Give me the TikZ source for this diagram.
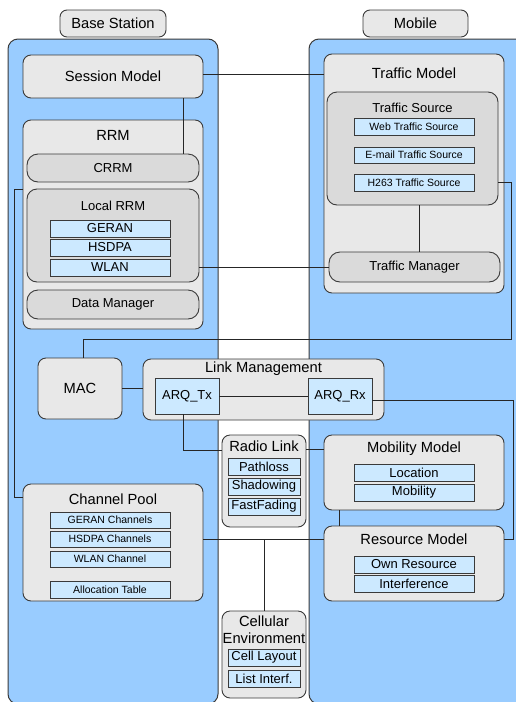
\documentclass[tikz,border=0pt]{standalone}
\usepackage{fontspec}
\setmainfont{Liberation Sans}

\definecolor{panelblue}{HTML}{99CCFF}
\definecolor{boxgray}{HTML}{E8E8E8}
\definecolor{subgray}{HTML}{DADADA}
\definecolor{itemblue}{HTML}{CCE9FF}
\definecolor{linegray}{HTML}{3A3A3A}

\newcommand\fsBig{\fontsize{14.7}{17}\selectfont}
\newcommand\fsMid{\fontsize{13}{15}\selectfont}
\newcommand\fsSmall{\fontsize{10.5}{12}\selectfont}

\tikzset{
  every node/.style={inner sep=0pt, outer sep=0pt},
  panel/.style={draw=linegray, fill=panelblue, rounded corners=10pt, line width=1pt},
  tagbox/.style={draw=linegray, fill=boxgray, rounded corners=7pt, line width=0.9pt, font=\fsBig},
  outerbox/.style={draw=linegray, fill=boxgray, rounded corners=8pt, line width=0.9pt},
  innerbox/.style={draw=linegray, fill=subgray, rounded corners=11pt, line width=0.9pt},
  itembox/.style={draw=linegray, fill=itemblue, line width=0.9pt},
  title/.style={font=\fsBig},
  wire/.style={draw=black!85, line width=1pt},
}

\begin{document}
\begin{tikzpicture}[x=1pt, y=-1pt]
\useasboundingbox (0,0) rectangle (516,702);
\clip (0,0) rectangle (516,702);

% the two sides
\node[panel, minimum width=210pt, minimum height=665pt] (bspanel) at (113,371.5) {};
\node[panel, minimum width=231pt, minimum height=665pt] (mspanel) at (424.5,371.5) {};
\node[tagbox, minimum width=106pt, minimum height=27pt] (bstag) at (113,23.5) {Base Station};
\node[tagbox, minimum width=105pt, minimum height=27pt] (mstag) at (415.5,23.5) {Mobile};

% base station
\node[outerbox, minimum width=180pt, minimum height=43pt, font=\fsBig] (session) at (113,76.5) {Session Model};
\node[outerbox, minimum width=180pt, minimum height=209pt] (rrm) at (113,224.5) {};
\node[title] (rrmT) at (113,135.5) {RRM};
\node[innerbox, minimum width=172pt, minimum height=28pt, font=\fsMid] (crrm) at (113,168) {CRRM};
\node[innerbox, rounded corners=10pt, minimum width=172pt, minimum height=93pt] (lrrm) at (113,235.5) {};
\node[font=\fsMid] (lrrmT) at (113,205.7) {Local RRM};
\node[itembox, minimum width=120pt, minimum height=17pt, font=\fsMid] (geran) at (110,228.5) {GERAN};
\node[itembox, minimum width=120pt, minimum height=17pt, font=\fsMid] (hsdpa) at (110,247.5) {HSDPA};
\node[itembox, minimum width=120pt, minimum height=17pt, font=\fsMid] (wlan) at (110,267.5) {WLAN};
\node[innerbox, minimum width=172pt, minimum height=29pt, font=\fsMid] (dataman) at (113,304.5) {Data Manager};

\node[outerbox, minimum width=84pt, minimum height=61pt, font=\fsBig] (mac) at (80,388.5) {MAC};

\node[outerbox, minimum width=180pt, minimum height=117pt] (chpool) at (113,542.5) {};
\node[title] (chpoolT) at (113,499) {Channel Pool};
\node[itembox, minimum width=120pt, minimum height=16pt, font=\fsSmall] (gerch) at (110,520) {GERAN Channels};
\node[itembox, minimum width=120pt, minimum height=16pt, font=\fsSmall] (hsdch) at (110,539) {HSDPA Channels};
\node[itembox, minimum width=120pt, minimum height=16pt, font=\fsSmall] (wlanch) at (110,559) {WLAN Channel};
\node[itembox, minimum width=120pt, minimum height=17pt, font=\fsSmall] (alloc) at (110,589.5) {Allocation Table};

% mobile
\node[outerbox, minimum width=180pt, minimum height=239pt] (tmodel) at (414,173.5) {};
\node[title] (tmodelT) at (414,73) {Traffic Model};
\node[innerbox, rounded corners=10pt, minimum width=171pt, minimum height=113pt] (tsrc) at (412.5,148.5) {};
\node[font=\fsMid] (tsrcT) at (412.5,107.5) {Traffic Source};
\node[itembox, minimum width=120pt, minimum height=17pt, font=\fsSmall] (web) at (414,126.5) {Web Traffic Source};
\node[itembox, minimum width=120pt, minimum height=16pt, font=\fsSmall] (email) at (414,155) {E-mail Traffic Source};
\node[itembox, minimum width=120pt, minimum height=17pt, font=\fsSmall] (htsrc) at (414,182.5) {H263 Traffic Source};
\node[innerbox, minimum width=171pt, minimum height=30pt, font=\fsMid] (tman) at (414.5,267) {Traffic Manager};

\node[outerbox, minimum width=180pt, minimum height=75pt] (mob) at (414,472.5) {};
\node[title] (mobT) at (414,449) {Mobility Model};
\node[itembox, minimum width=120pt, minimum height=17pt, font=\fsMid] (loc) at (414,472.5) {Location};
\node[itembox, minimum width=120pt, minimum height=17pt, font=\fsMid] (mobty) at (414,492.5) {Mobility};

\node[outerbox, minimum width=180pt, minimum height=75pt] (resm) at (414,563.5) {};
\node[title] (resT) at (414,539) {Resource Model};
\node[itembox, minimum width=120pt, minimum height=17pt, font=\fsMid] (ownres) at (414,564.5) {Own Resource};
\node[itembox, minimum width=120pt, minimum height=17pt, font=\fsMid] (interf) at (414,583.5) {Interference};

% shared blocks
\node[outerbox, minimum width=241pt, minimum height=61pt] (lman) at (263.5,389.5) {};
\node[title] (lmanT) at (263.5,368.5) {Link Management};
\node[itembox, minimum width=64pt, minimum height=36pt, font=\fsMid] (arqtx) at (187,396) {ARQ\_Tx};
\node[itembox, minimum width=64pt, minimum height=36pt, font=\fsMid] (arqrx) at (340,396) {ARQ\_Rx};

\node[outerbox, minimum width=84pt, minimum height=92pt] (rlink) at (264,481) {};
\node[title] (rlinkT) at (264,446) {Radio Link};
\node[itembox, minimum width=72pt, minimum height=17pt, font=\fsMid] (pathl) at (264,466.5) {Pathloss};
\node[itembox, minimum width=72pt, minimum height=17pt, font=\fsMid] (shadow) at (264,486.5) {Shadowing};
\node[itembox, minimum width=72pt, minimum height=17pt, font=\fsMid] (ffad) at (264,506.5) {FastFading};

\node[outerbox, minimum width=84pt, minimum height=87pt] (cenv) at (264,654.5) {};
\node[title, align=center] (cenvT) at (264,630) {Cellular\\Environment};
\node[itembox, minimum width=72pt, minimum height=17pt, font=\fsMid] (clay) at (264,657.5) {Cell Layout};
\node[itembox, minimum width=72pt, minimum height=17pt, font=\fsMid] (linterf) at (264,678.5) {List Interf.};

% connections
\coordinate (bendA) at (511,339);
\coordinate (bendB) at (513,539);
\coordinate (bendC) at (14,497);

\draw[wire] ([yshift=2.5pt]session.east) -- ([yshift=2.5pt]session.east -| tmodel.west);
\draw[wire] ([xshift=70pt]session.south) -- ([xshift=70pt]crrm.north);
\draw[wire] (lrrm.east |- tman.west) -- (tman.west);
\draw[wire] ([xshift=7pt]tsrc.south) -- ([xshift=7pt]tsrc.south |- tman.north);
\draw[wire] (tsrc.east |- htsrc.east) -| (bendA) -| ([xshift=3pt]mac.north);
\draw[wire] (rrm.west |- lrrm.north) -| (bendC) -- (chpool.west |- bendC);
\draw[wire] (mac.east) -- (mac.east -| lman.west);
\draw[wire] (arqtx.east) -- (arqrx.west);
\draw[wire] ([yshift=-4pt]arqrx.east) -| (bendB) -- (resm.east |- bendB);
\draw[wire] ([xshift=-4pt]arqtx.south) |- ([yshift=-4pt]rlink.west |- rlinkT);
\draw[wire] (rlink.east |- mobT) -- (mob.west |- mobT);
\draw[wire] ([xshift=-75pt]mob.south) -- ([xshift=-75pt]resm.north);
\draw[wire] (chpool.east |- resT) -- (resm.west |- resT);
\draw[wire] (cenv.north |- resT) -- (cenv.north);
\end{tikzpicture}
\end{document}
